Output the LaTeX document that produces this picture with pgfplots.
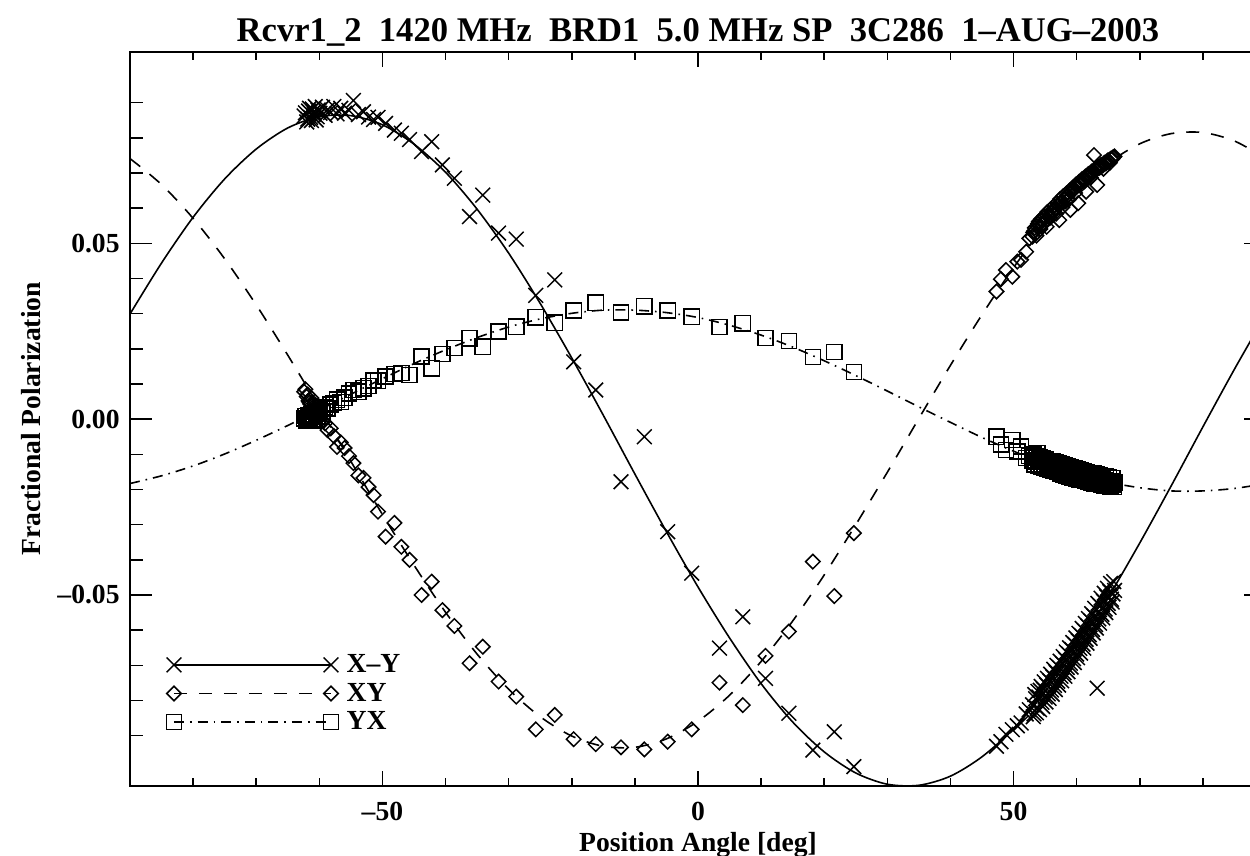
\documentclass[border=0pt]{standalone}
\usepackage{fontspec}
\setmainfont{Liberation Serif}
\usepackage{pgfplots}
\usepackage{pgfplotstable}
\pgfplotsset{compat=1.18}

% Observed fractional polarization vs. parallactic (position) angle
% columns: position angle, X-Y, XY, YX
\pgfplotstableread{
pa xmy xy yx
-62.4 0.0862 0.0078 0.0002
-62.2 0.0871 0.0085 0.0009
-62.0 0.0845 0.0064 -0.0003
-61.85 0.0853 0.0070 -0.0001
-61.7 0.0876 0.0052 0.0012
-61.55 0.0884 0.0047 0.0004
-61.4 0.0858 0.0042 0.0006
-61.25 0.0849 0.0060 0.0013
-61.1 0.0882 0.0031 0.0015
-60.95 0.0873 0.0026 0.0001
-60.8 0.0866 0.0022 -0.0004
-60.65 0.0889 0.0041 0.0020
-60.5 0.0851 0.0036 0.0018
-60.35 0.0860 0.0012 0.0008
-60.2 0.0879 0.0008 0.0010
-60.05 0.0877 0.0020 0.0016
-59.9 0.0870 0.0015 0.0025
-59.5 0.0887 -0.0003 0.0021
-59.1 0.0864 -0.0012 0.0033
-58.7 0.0880 -0.0031 0.0030
-58.2 0.0872 -0.0026 0.0042
-57.7 0.0889 -0.0048 0.0046
-57.2 0.0868 -0.0079 0.0055
-56.6 0.0884 -0.0066 0.0049
-56.0 0.0870 -0.0082 0.0061
-55.3 0.0878 -0.0105 0.0073
-54.6 0.0906 -0.0125 0.0083
-53.8 0.0866 -0.0160 0.0078
-53.0 0.0874 -0.0167 0.0088
-52.2 0.0859 -0.0193 0.0094
-51.4 0.0852 -0.0216 0.0110
-50.7 0.0858 -0.0263 0.0109
-49.5 0.0841 -0.0334 0.0121
-48.1 0.0822 -0.0295 0.0128
-47.0 0.0813 -0.0363 0.0131
-45.7 0.0795 -0.0400 0.0126
-43.8 0.0761 -0.0500 0.0178
-42.2 0.0789 -0.0462 0.0145
-40.5 0.0723 -0.0543 0.0185
-38.6 0.0685 -0.0588 0.0202
-36.2 0.0576 -0.0694 0.0230
-34.1 0.0637 -0.0647 0.0206
-31.6 0.0529 -0.0746 0.0249
-28.8 0.0512 -0.0789 0.0263
-25.7 0.0352 -0.0882 0.0290
-22.7 0.0396 -0.0841 0.0274
-19.7 0.0163 -0.0910 0.0309
-16.2 0.0083 -0.0924 0.0331
-12.2 -0.0178 -0.0933 0.0303
-8.5 -0.0050 -0.0939 0.0321
-4.8 -0.0320 -0.0917 0.0309
-1.0 -0.0438 -0.0882 0.0291
3.4 -0.0651 -0.0749 0.0262
7.1 -0.0562 -0.0813 0.0273
10.7 -0.0737 -0.0673 0.0231
14.4 -0.0836 -0.0604 0.0222
18.2 -0.0941 -0.0405 0.0177
21.6 -0.0889 -0.0503 0.0191
24.7 -0.0988 -0.0324 0.0134
47.3 -0.0930 0.0363 -0.0050
48.0 -0.0917 0.0398 -0.0072
48.8 -0.0896 0.0424 -0.0088
49.8 -0.0883 0.0405 -0.0059
50.6 -0.0872 0.0448 -0.0092
51.2 -0.0864 0.0453 -0.0078
52.0 -0.0838 0.0476 -0.0110
52.5 -0.0826 0.0514 -0.0104
53.0 -0.0812 0.0519 -0.0117
53.125 -0.0846 0.0531 -0.0101
53.25 -0.0838 0.0535 -0.0108
53.375 -0.0783 0.0544 -0.0128
53.5 -0.0795 0.0528 -0.0121
53.625 -0.0835 0.0522 -0.0105
53.75 -0.0822 0.0548 -0.0096
53.875 -0.0774 0.0556 -0.0132
54.0 -0.0790 0.0562 -0.0127
54.125 -0.0826 0.0548 -0.0109
54.25 -0.0771 0.0541 -0.0115
54.375 -0.0760 0.0569 -0.0134
54.5 -0.0805 0.0566 -0.0131
54.625 -0.0817 0.0553 -0.0112
54.75 -0.0768 0.0558 -0.0119
54.875 -0.0747 0.0578 -0.0138
55.0 -0.0790 0.0575 -0.0134
55.125 -0.0804 0.0567 -0.0115
55.25 -0.0756 0.0547 -0.0122
55.375 -0.0737 0.0589 -0.0141
55.5 -0.0781 0.0583 -0.0137
55.625 -0.0794 0.0576 -0.0119
55.75 -0.0744 0.0572 -0.0126
55.875 -0.0725 0.0597 -0.0144
56.0 -0.0770 0.0590 -0.0141
56.125 -0.0782 0.0586 -0.0121
56.25 -0.0733 0.0581 -0.0129
56.375 -0.0711 0.0606 -0.0147
56.5 -0.0757 0.0598 -0.0130
56.625 -0.0769 0.0598 -0.0124
56.75 -0.0720 0.0584 -0.0145
56.875 -0.0700 0.0614 -0.0150
57.0 -0.0745 0.0609 -0.0133
57.125 -0.0756 0.0608 -0.0127
57.25 -0.0706 0.0566 -0.0147
57.375 -0.0688 0.0626 -0.0154
57.5 -0.0731 0.0614 -0.0136
57.625 -0.0744 0.0617 -0.0129
57.75 -0.0695 0.0603 -0.0150
57.875 -0.0675 0.0634 -0.0157
58.0 -0.0721 0.0627 -0.0140
58.125 -0.0731 0.0627 -0.0132
58.25 -0.0683 0.0619 -0.0153
58.375 -0.0662 0.0642 -0.0160
58.5 -0.0706 0.0634 -0.0143
58.625 -0.0718 0.0636 -0.0135
58.75 -0.0668 0.0624 -0.0156
58.875 -0.0650 0.0650 -0.0163
59.0 -0.0694 0.0595 -0.0145
59.125 -0.0705 0.0646 -0.0138
59.25 -0.0655 0.0648 -0.0158
59.375 -0.0635 0.0658 -0.0165
59.5 -0.0681 0.0652 -0.0148
59.625 -0.0692 0.0655 -0.0141
59.75 -0.0641 0.0643 -0.0161
59.875 -0.0622 0.0667 -0.0168
60.0 -0.0668 0.0661 -0.0151
60.125 -0.0678 0.0664 -0.0143
60.25 -0.0630 0.0614 -0.0163
60.375 -0.0609 0.0675 -0.0171
60.5 -0.0652 0.0670 -0.0154
60.625 -0.0665 0.0672 -0.0146
60.75 -0.0615 0.0668 -0.0166
60.875 -0.0595 0.0683 -0.0173
61.0 -0.0640 0.0679 -0.0157
61.125 -0.0651 0.0681 -0.0148
61.25 -0.0602 0.0676 -0.0168
61.375 -0.0581 0.0690 -0.0176
61.5 -0.0626 0.0647 -0.0159
61.625 -0.0637 0.0688 -0.0151
61.75 -0.0588 0.0690 -0.0170
61.875 -0.0567 0.0697 -0.0178
62.0 -0.0613 0.0693 -0.0162
62.125 -0.0623 0.0695 -0.0153
62.25 -0.0574 0.0687 -0.0172
62.375 -0.0553 0.0704 -0.0180
62.5 -0.0598 0.0701 -0.0164
62.625 -0.0608 0.0702 -0.0155
62.75 -0.0560 0.0751 -0.0175
62.875 -0.0538 0.0711 -0.0182
63.0 -0.0584 0.0708 -0.0167
63.125 -0.0594 0.0709 -0.0158
63.25 -0.0765 0.0666 -0.0177
63.375 -0.0524 0.0717 -0.0184
63.5 -0.0568 0.0716 -0.0169
63.625 -0.0580 0.0715 -0.0160
63.75 -0.0531 0.0718 -0.0179
63.875 -0.0509 0.0723 -0.0186
64.0 -0.0555 0.0722 -0.0171
64.125 -0.0565 0.0721 -0.0162
64.25 -0.0518 0.0712 -0.0181
64.375 -0.0495 0.0729 -0.0188
64.5 -0.0540 0.0729 -0.0173
64.625 -0.0550 0.0727 -0.0164
64.75 -0.0505 0.0731 -0.0183
64.875 -0.0481 0.0735 -0.0189
65.0 -0.0524 0.0736 -0.0176
65.125 -0.0535 0.0733 -0.0166
65.25 -0.0490 0.0729 -0.0185
65.375 -0.0467 0.0740 -0.0191
65.5 -0.0512 0.0741 -0.0178
65.625 -0.0520 0.0739 -0.0168
65.75 -0.0497 0.0744 -0.0186
65.875 -0.0462 0.0745 -0.0192
66.0 -0.0487 0.0747 -0.0180
}\obs

\tikzset{
  labelfont/.style={font=\fontsize{13.8}{16}\selectfont\bfseries},
  xmymark/.style={mark=x, mark size=5.2pt, mark options={solid, line width=0.75pt}},
  xymark/.style={mark=square, mark size=2.55pt, mark options={solid, rotate=45, line width=0.75pt}},
  yxmark/.style={mark=square, mark size=3.8pt, mark options={solid, line width=0.75pt}},
  dashxy/.style={dash pattern=on 6.5pt off 6pt},
  dashyx/.style={dash pattern=on 5pt off 3pt on 0.8pt off 3pt},
}
\pgfplotsset{
  fitline/.style={black, line width=0.8pt, smooth, no marks},
}

\begin{document}
\begin{tikzpicture}
\begin{axis}[
  scale only axis, width=568pt, height=367pt,
  xmin=-90, xmax=90, ymin=-0.1043, ymax=0.1044,
  axis line style={line width=0.9pt, black},
  xtick={-50,0,50}, xticklabels={\textendash50,0,50},
  minor xtick={-80,-70,-60,-40,-30,-20,-10,10,20,30,40,60,70,80},
  ytick={-0.05,0,0.05}, yticklabels={\textendash0.05,0.00,0.05},
  minor ytick={-0.09,-0.08,-0.07,-0.06,-0.04,-0.03,-0.02,-0.01,0.01,0.02,0.03,0.04,0.06,0.07,0.08,0.09},
  tick align=inside,
  major tick length=11pt, minor tick length=6.3pt,
  xtick style={/pgfplots/major tick length=7.5pt, /pgfplots/minor tick length=4pt},
  every tick/.style={black, line width=0.8pt},
  tick label style={labelfont},
  yticklabel style={inner sep=0pt, xshift=-5pt},
  xticklabel style={inner sep=0pt, yshift=-8pt},
  every axis title shift=0pt,
  title={Rcvr1\_2\ \ 1420 MHz\ \ BRD1\ \ 5.0 MHz SP\ \ 3C286\ \ 1\textendash AUG\textendash 2003},
  title style={at={(axis description cs:0.5,1)}, anchor=base, yshift=5pt, font=\fontsize{17.3}{20}\selectfont\bfseries},
  xlabel={Position Angle [deg]},
  ylabel={Fractional Polarization},
  x label style={at={(axis description cs:0.5,-0.0886)}, anchor=base, labelfont},
  y label style={at={(axis description cs:-0.0792,0.5)}, anchor=base, labelfont},
  legend image code/.code={\draw[#1] plot coordinates {(0pt,0pt) (78.5pt,0pt)};},
  legend style={draw=none, fill=none, at={(axis description cs:0,0)}, anchor=south west,
    xshift=15pt, yshift=24.5pt, labelfont, row sep=3.75pt, column sep=4pt,
    nodes={inner sep=0pt}},
  legend cell align=left,
]
% fitted curves
\addplot[fitline, solid, forget plot] coordinates {
(-90,0.0299) (-85,0.0444) (-80,0.0574) (-75,0.0683) (-70,0.0768) (-65,0.0828)
(-60,0.0860) (-55,0.0863) (-50,0.0837) (-45,0.0782) (-40,0.0702) (-35,0.0597)
(-30,0.0472) (-25,0.0329) (-20,0.0174) (-15,0.0011) (-10,-0.0156) (-5,-0.0320)
(0,-0.0477) (5,-0.0622) (10,-0.0752) (15,-0.0861) (20,-0.0946) (25,-0.1006)
(30,-0.1038) (35,-0.1041) (40,-0.1015) (45,-0.0960) (50,-0.0880) (55,-0.0775)
(60,-0.0650) (65,-0.0507) (70,-0.0352) (75,-0.0189) (80,-0.0022) (85,0.0142) (90,0.0299)};
\addplot[fitline, dashxy, forget plot] coordinates {
(-90,0.0741) (-85,0.0667) (-80,0.0571) (-75,0.0456) (-70,0.0325) (-65,0.0182)
(-60,0.0033) (-55,-0.0120) (-50,-0.0271) (-45,-0.0415) (-40,-0.0549) (-35,-0.0668)
(-30,-0.0768) (-25,-0.0846) (-20,-0.0901) (-15,-0.0930) (-10,-0.0933) (-5,-0.0909)
(0,-0.0859) (5,-0.0785) (10,-0.0689) (15,-0.0574) (20,-0.0443) (25,-0.0300)
(30,-0.0151) (35,0.0002) (40,0.0153) (45,0.0297) (50,0.0431) (55,0.0550)
(60,0.0650) (65,0.0728) (70,0.0783) (75,0.0812) (80,0.0815) (85,0.0791) (90,0.0741)};
\addplot[fitline, dashyx, forget plot] coordinates {
(-90,-0.0183) (-85,-0.0161) (-80,-0.0133) (-75,-0.0099) (-70,-0.0060) (-65,-0.0018)
(-60,0.0026) (-55,0.0071) (-50,0.0115) (-45,0.0158) (-40,0.0197) (-35,0.0232)
(-30,0.0262) (-25,0.0285) (-20,0.0301) (-15,0.0310) (-10,0.0310) (-5,0.0303)
(0,0.0289) (5,0.0267) (10,0.0239) (15,0.0205) (20,0.0166) (25,0.0124)
(30,0.0080) (35,0.0035) (40,-0.0009) (45,-0.0052) (50,-0.0091) (55,-0.0126)
(60,-0.0156) (65,-0.0179) (70,-0.0195) (75,-0.0204) (80,-0.0204) (85,-0.0197) (90,-0.0183)};
% measurements
\addplot[black, only marks, xymark, forget plot] table[x=pa, y=xy] {\obs};
\addplot[black, only marks, yxmark, forget plot] table[x=pa, y=yx] {\obs};
\addplot[black, only marks, xmymark, forget plot] table[x=pa, y=xmy] {\obs};
% legend
\addlegendimage{black, line width=0.8pt, solid, xmymark}
\addlegendentry{X\textendash Y}
\addlegendimage{black, line width=0.8pt, dashxy, xymark}
\addlegendentry{XY}
\addlegendimage{black, line width=0.8pt, dashyx, yxmark}
\addlegendentry{YX}
\end{axis}
\pgfresetboundingbox
\useasboundingbox ([xshift=-65pt,yshift=-35pt]current axis.south west)
  rectangle ([xshift=560pt,yshift=393pt]current axis.south west);
\end{tikzpicture}
\end{document}
